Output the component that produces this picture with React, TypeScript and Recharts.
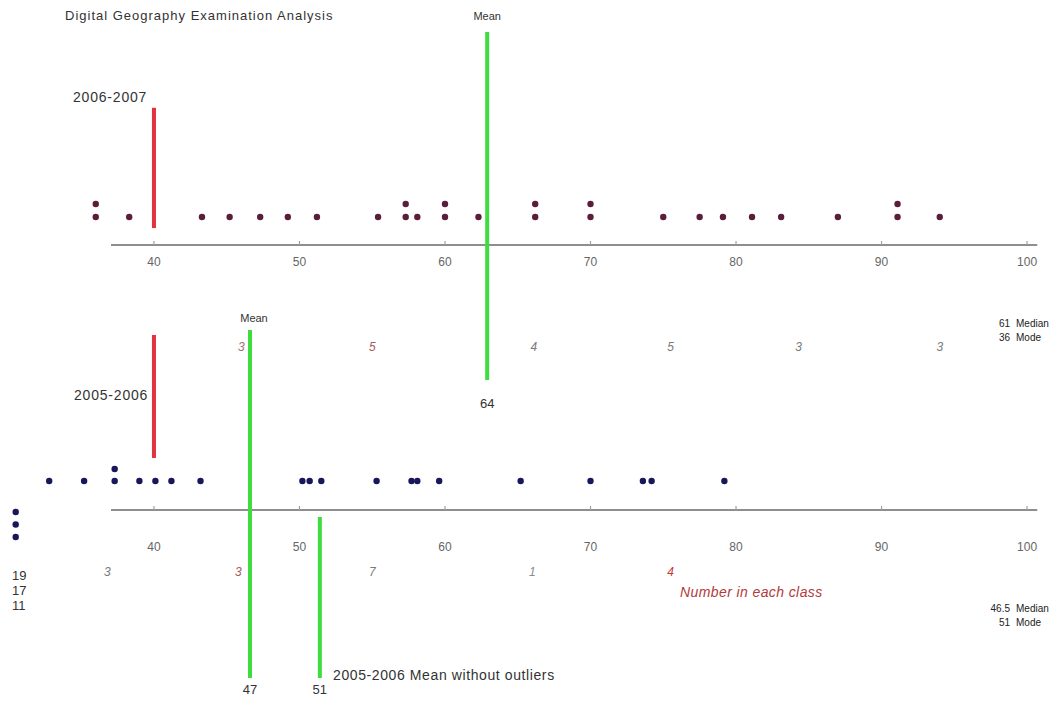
import React from 'react';
import { ScatterChart, Scatter, XAxis, YAxis, ReferenceLine, ReferenceDot, Label } from 'recharts';

// ---------- data ----------
const scores2006_07 = [36, 36, 38.3, 43.3, 45.2, 47.3, 49.2, 51.2, 55.4, 57.3, 57.3, 58.1, 60, 60, 62.3, 66.2, 66.2, 70, 70, 75, 77.5, 79.1, 81.1, 83.1, 87, 91.1, 91.1, 94];
const scores2005_06 = [32.8, 35.2, 37.3, 37.3, 39, 40.1, 41.2, 43.2, 50.2, 50.7, 51.5, 55.3, 57.7, 58.1, 59.6, 65.2, 70, 73.6, 74.2, 79.2];
const outliers2005_06 = ['19', '17', '11'];
const tickValues = [40, 50, 60, 70, 80, 90, 100];

const classCounts0607 = ['3', '5', '4', '5', '3', '3'];
const classPos0607 = [46.0, 55.0, 66.1, 75.5, 84.3, 94.0];
const classCounts0506 = ['3', '3', '7', '1', '4'];
const classPos0506 = [36.8, 45.8, 55.0, 66.0, 75.5];

const yearMarker = 40;
const mean0607 = 62.9;
const mean0607Label = '64';
const mean0506 = 46.6;
const mean0506Label = '47';
const meanNoOutliers = 51.4;
const meanNoOutliersLabel = '51';

const stats0607 = [['61', 'Median'], ['36', 'Mode']];
const stats0506 = [['46.5', 'Median'], ['51', 'Mode']];

// ---------- layout / style ----------
const W = 1063;
const H = 703;
const FONT = '"Liberation Sans", Arial, sans-serif';
const X_DOMAIN: [number, number] = [29.42, 102.47];
const AXIS_EXTENT: [number, number] = [37.05, 100.7];
const OUTLIER_X = 30.5;
const RED = '#e0323f';
const GREEN = '#3fdc3f';
const AXIS_GREY = '#8e8e8e';
const DOT_TOP = '#5a1e3a';
const DOT_BOTTOM = '#17175a';
const classColors0607 = ['#9a7474', '#a85a5a', '#7a7a7a', '#7a7a7a', '#7a7a7a', '#7a7a7a'];
const classColors0506 = ['#7a7a7a', '#a85a5a', '#7a7a7a', '#8a8a8a', '#c83a3a'];

const stack = (scores: number[]) => {
  const seen: Record<string, number> = {};
  return scores.map((s) => {
    const k = String(s);
    const lvl = seen[k] || 0;
    seen[k] = lvl + 1;
    return { x: s, y: lvl };
  });
};

const makeTick = (labelCy: number) => (props: any) => {
  const { x, y, payload } = props;
  return (
    <g>
      <line x1={x} x2={x} y1={y - 4} y2={y} stroke="#a0a0a0" strokeWidth={1.2} />
      <text x={x} y={y + labelCy + 4.3} textAnchor="middle" fontSize={12} fill="#666" fontFamily={FONT}>
        {payload.value}
      </text>
    </g>
  );
};

const dotShape = (color: string) => (p: any) => <circle cx={p.cx} cy={p.cy} r={3.2} fill={color} />;

const Txt = ({ left, cy, size, children, color = '#333', italic = false, ls = 0, lh = 16, align = 'left', width }: any) => (
  <div
    style={{
      position: 'absolute',
      left,
      top: cy - lh / 2,
      width,
      fontSize: size,
      lineHeight: `${lh}px`,
      color,
      fontStyle: italic ? 'italic' : 'normal',
      letterSpacing: ls,
      whiteSpace: 'pre',
      fontFamily: FONT,
      textAlign: align,
    }}
  >
    {children}
  </div>
);

const Stats = ({ rows, cy }: any) => (
  <>
    {rows.map((r: string[], i: number) => (
      <React.Fragment key={i}>
        <Txt left={960} width={50} align="right" cy={cy + i * 14} size={10} lh={14} color="#222">{r[0]}</Txt>
        <Txt left={1016} cy={cy + i * 14} size={10} lh={14} color="#222">{r[1]}</Txt>
      </React.Fragment>
    ))}
  </>
);

export default function App() {
  const top = stack(scores2006_07);
  const bottom = stack(scores2005_06);

  // panel A: axis at 245px, dot row at 217px, 13px per stack level
  const A_DOMAIN: [number, number] = [-28 / 13, 217 / 13];
  // panel B: axis at 510px, dot row at 481px, 12px per stack level
  const B_DOMAIN: [number, number] = [-29 / 12, 481 / 12];

  const chartStyle: React.CSSProperties = { position: 'absolute', left: 0, top: 0 };

  return (
    <div style={{ position: 'absolute', left: 0, top: 0, width: W, height: H, background: '#fff', overflow: 'hidden' }}>
      {/* 2006-2007 panel */}
      <div style={chartStyle}>
        <ScatterChart width={W} height={H} margin={{ top: 0, right: 0, left: 0, bottom: H - 245 - 30 }}>
          <XAxis type="number" dataKey="x" domain={X_DOMAIN} ticks={tickValues} interval={0} height={30}
            axisLine={false} tickLine={false} tickSize={0} tickMargin={0} tick={makeTick(17)} />
          <YAxis type="number" dataKey="y" domain={A_DOMAIN} hide />
          <ReferenceLine segment={[{ x: AXIS_EXTENT[0], y: A_DOMAIN[0] }, { x: AXIS_EXTENT[1], y: A_DOMAIN[0] }]}
            stroke={AXIS_GREY} strokeWidth={2} ifOverflow="visible" />
          <ReferenceLine segment={[{ x: yearMarker, y: 8.4 }, { x: yearMarker, y: -0.85 }]}
            stroke={RED} strokeWidth={4} ifOverflow="visible" />
          <ReferenceLine segment={[{ x: mean0607, y: 14.23 }, { x: mean0607, y: -12.54 }]}
            stroke={GREEN} strokeWidth={4} ifOverflow="visible">
            <Label value="Mean" position="top" offset={12} fontSize={11} fill="#333" fontFamily={FONT} />
            <Label value={mean0607Label} position="bottom" offset={19} fontSize={13} fill="#333" fontFamily={FONT} />
          </ReferenceLine>
          {classCounts0607.map((c, i) => (
            <ReferenceDot key={i} x={classPos0607[i]} y={-10} r={0} fill="none" stroke="none" ifOverflow="visible"
              label={{ value: c, position: 'center', fontSize: 12, fontStyle: 'italic', fill: classColors0607[i], fontFamily: FONT }} />
          ))}
          <Scatter data={top} isAnimationActive={false} shape={dotShape(DOT_TOP)} />
        </ScatterChart>
      </div>

      {/* 2005-2006 panel */}
      <div style={chartStyle}>
        <ScatterChart width={W} height={H} margin={{ top: 0, right: 0, left: 0, bottom: H - 510 - 30 }}>
          <XAxis type="number" dataKey="x" domain={X_DOMAIN} ticks={tickValues} interval={0} height={30}
            axisLine={false} tickLine={false} tickSize={0} tickMargin={0} tick={makeTick(37)} />
          <YAxis type="number" dataKey="y" domain={B_DOMAIN} hide />
          <ReferenceLine segment={[{ x: AXIS_EXTENT[0], y: B_DOMAIN[0] }, { x: AXIS_EXTENT[1], y: B_DOMAIN[0] }]}
            stroke={AXIS_GREY} strokeWidth={2} ifOverflow="visible" />
          <ReferenceLine segment={[{ x: yearMarker, y: 12.17 }, { x: yearMarker, y: 1.92 }]}
            stroke={RED} strokeWidth={4} ifOverflow="visible" />
          <ReferenceLine segment={[{ x: mean0506, y: 12.58 }, { x: mean0506, y: -16.42 }]}
            stroke={GREEN} strokeWidth={4} ifOverflow="visible">
            <Label value="Mean" position="top" offset={8} dx={4} fontSize={11} fill="#333" fontFamily={FONT} />
            <Label value={mean0506Label} position="bottom" offset={7} fontSize={13} fill="#333" fontFamily={FONT} />
          </ReferenceLine>
          <ReferenceLine segment={[{ x: meanNoOutliers, y: -3.0 }, { x: meanNoOutliers, y: -16.42 }]}
            stroke={GREEN} strokeWidth={4} ifOverflow="visible">
            <Label value={meanNoOutliersLabel} position="bottom" offset={7} fontSize={13} fill="#333" fontFamily={FONT} />
          </ReferenceLine>
          {classCounts0506.map((c, i) => (
            <ReferenceDot key={i} x={classPos0506[i]} y={-7.58} r={0} fill="none" stroke="none" ifOverflow="visible"
              label={{ value: c, position: 'center', fontSize: 12, fontStyle: 'italic', fill: classColors0506[i], fontFamily: FONT }} />
          ))}
          {outliers2005_06.map((o, i) => (
            <ReferenceDot key={'o' + i} x={OUTLIER_X} y={-2.58 - i * 1.045} r={3.2} fill={DOT_BOTTOM} stroke="none" ifOverflow="visible" />
          ))}
          <Scatter data={bottom} isAnimationActive={false} shape={dotShape(DOT_BOTTOM)} />
        </ScatterChart>
      </div>

      {/* free annotations */}
      <Txt left={65} cy={16} size={13} ls={1} color="#333">Digital Geography Examination Analysis</Txt>
      <Txt left={73} cy={97} size={14} ls={0.8} color="#333">2006-2007</Txt>
      <Txt left={74} cy={395} size={14} ls={0.8} color="#333">2005-2006</Txt>
      <Stats rows={stats0607} cy={324} />
      <Stats rows={stats0506} cy={609} />
      <Txt left={680} cy={592} size={14} ls={0.4} italic color="#b23a3a">Number in each class</Txt>
      <Txt left={333} cy={675} size={14} ls={0.6} color="#333">2005-2006 Mean without outliers</Txt>
      {outliers2005_06.map((o, i) => (
        <Txt key={i} left={12} cy={575 + i * 15} size={13} lh={15} color="#333">{o}</Txt>
      ))}
    </div>
  );
}
